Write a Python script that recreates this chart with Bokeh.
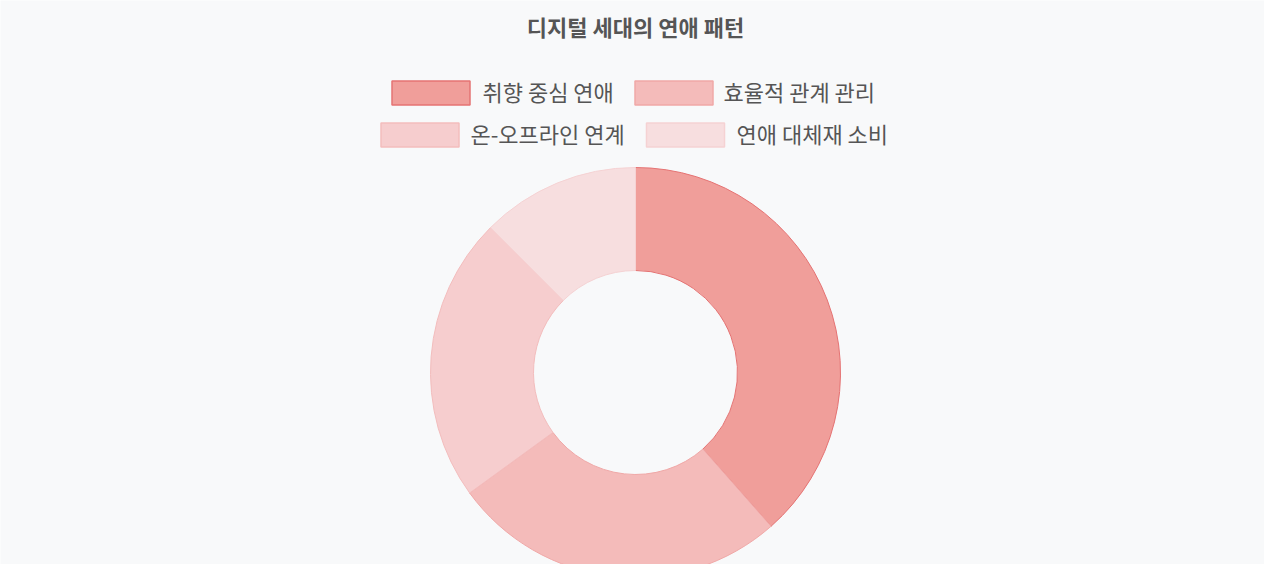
import math
from bokeh.plotting import figure
from bokeh.models import Range1d
from bokeh.core.properties import value
from bokeh.embed import file_html
from bokeh.resources import INLINE

title = "디지털 세대의 연애 패턴"
categories = ["취향 중심 연애", "효율적 관계 관리", "온-오프라인 연계", "연애 대체재 소비"]
shares = [38.5, 26.5, 22.5, 12.5]
fills = ["#F09E9A", "#F4BBBA", "#F6CDCE", "#F7DEDF"]
borders = ["#E57373", "#F0A8A7", "#F3BDBD", "#F5D2D3"]

W, H = 1264, 564
FONT = "Noto Sans CJK KR"

# layout is given in pixels from the top-left corner; flip y for data space
def py(y):
    return H - y

p = figure(width=W, height=H, output_backend="svg", toolbar_location=None,
           x_range=Range1d(0, W), y_range=Range1d(0, H),
           min_border=0, outline_line_color=None,
           background_fill_color="#F8F9FA", border_fill_color="#F8F9FA")
p.axis.visible = False
p.grid.visible = False

# donut, starting at 12 o'clock, going clockwise
total = sum(shares)
starts, ends = [], []
acc = 0.0
for s in shares:
    starts.append(math.pi / 2 - 2 * math.pi * acc / total)
    acc += s
    ends.append(math.pi / 2 - 2 * math.pi * acc / total)

cx, cy = 635, py(372)
p.annular_wedge(x=[cx] * 4, y=[cy] * 4, inner_radius=102, outer_radius=205,
                inner_radius_units="screen", outer_radius_units="screen",
                start_angle=starts, end_angle=ends, direction="clock",
                fill_color=fills, line_color=borders, line_width=1)

# title
p.text(x=[635], y=[py(25)], text=[title], text_align="center",
       text_baseline="middle", text_font=value(FONT), text_font_style="bold",
       text_font_size="22px", text_color="#555555")

# legend, two centred rows
box_x = [430.5, 673.5, 419.5, 685]
box_y = [92.5, 92.5, 134.5, 134.5]
label_x = [482, 723, 470, 736]
p.rect(x=box_x, y=[py(v) for v in box_y], width=78, height=24,
       width_units="screen", height_units="screen",
       fill_color=fills, line_color=borders, line_width=1.5)
p.text(x=label_x, y=[py(v - 2.5) for v in box_y], text=categories, text_align="left",
       text_baseline="middle", text_font=value(FONT), text_font_size="22px",
       text_color="#555555")

open("out.html", "w").write(file_html(p, INLINE))
